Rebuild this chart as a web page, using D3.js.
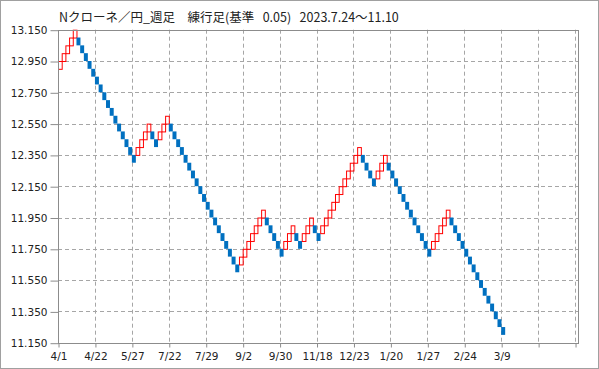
<!DOCTYPE html>
<html>
<head>
<meta charset="utf-8">
<script src="https://cdn.jsdelivr.net/npm/d3@7"></script>
<style>
  body { margin: 0; background: #fff; }
  .grid line { stroke: #a6a6a6; stroke-dasharray: 4,3; }
  .tick text { font-family: "DejaVu Sans", sans-serif; font-size: 10.5px; fill: #222; }
</style>
</head>
<body>
<svg width="599" height="369"></svg>
<script>
// renko settings
var boxSize = 0.05;
var startPrice = 12.90;

// signed run lengths (bricks per run, + up / - down)
var runs = [5, -16, 4, -2, 3, -19, 7, -5, 3, -2, 3, -2, 11, -4, 3, -12, 5, -15];

// x tick labels, one every 10 bricks
var xLabels = ["4/1", "4/22", "5/27", "7/22", "7/29", "9/2", "9/30", "11/18",
    "12/23", "1/20", "1/27", "2/24", "3/9", "", ""];

// y tick values
var yTicks = [11.15, 11.35, 11.55, 11.75, 11.95, 12.15, 12.35, 12.55, 12.75, 12.95, 13.15];

var title = "Nクローネ／円_週足　練行足(基準   0.05)   2023.7.24～11.10";

// build the bricks from the runs
var bricks = [];
var last = null; // {lo, hi, up}
runs.forEach(function (r) {
    var up = r > 0;
    for (var k = 0; k < Math.abs(r); k++) {
        var lo;
        if (last === null) {
            lo = up ? startPrice : startPrice - boxSize;
        } else {
            // same direction continues, a reversal starts from the far side
            lo = up ? last.hi : last.lo - boxSize;
        }
        last = { lo: lo, hi: lo + boxSize, up: up };
        bricks.push(last);
    }
});

var margin = { top: 29.7, left: 58, right: 21, bottom: 26.3 };
var W = 599, H = 369;

var svg = d3.select("svg");

// outer border
svg.append("rect")
    .attr("x", 0.5).attr("y", 0.5)
    .attr("width", W - 1).attr("height", H - 1)
    .attr("fill", "#fff").attr("stroke", "#a0a0a0");

var x = d3.scaleLinear().domain([0, 140.8]).range([margin.left, W - margin.right]);
var y = d3.scaleLinear().domain([11.15, 13.15]).range([H - margin.bottom, margin.top]);

var xTickIdx = xLabels.map(function (d, i) { return i * 10; });

// grid lines
var grid = svg.append("g").attr("class", "grid");
grid.selectAll(".gx")
    .data(xTickIdx.slice(1))
    .enter().append("line")
    .attr("x1", function (d) { return Math.round(x(d)) + 0.5; })
    .attr("x2", function (d) { return Math.round(x(d)) + 0.5; })
    .attr("y1", y(13.15)).attr("y2", y(11.15));
grid.selectAll(".gy")
    .data(yTicks.slice(1, -1))
    .enter().append("line")
    .attr("y1", function (d) { return Math.round(y(d)) + 0.5; })
    .attr("y2", function (d) { return Math.round(y(d)) + 0.5; })
    .attr("x1", x.range()[0]).attr("x2", x.range()[1]);

// bricks
svg.append("g").selectAll("rect")
    .data(bricks)
    .enter().append("rect")
    .attr("x", function (d, i) { return d.up ? x(i) + 0.5 : x(i); })
    .attr("y", function (d) { return d.up ? y(d.hi) + 0.5 : y(d.hi); })
    .attr("width", function (d, i) { return d.up ? x(i + 1) - x(i) : x(i + 1) - x(i) + 0.3; })
    .attr("height", function (d) { return y(d.lo) - y(d.hi); })
    .attr("fill", function (d) { return d.up ? "none" : "#0070c0"; })
    .attr("stroke", function (d) { return d.up ? "#ff0000" : "none"; })
    .attr("stroke-width", 1);

// plot frame
svg.append("rect")
    .attr("x", Math.round(x.range()[0]) + 0.5)
    .attr("y", Math.round(y.range()[1]) + 0.5)
    .attr("width", Math.round(x.range()[1]) - Math.round(x.range()[0]))
    .attr("height", Math.round(y.range()[0]) - Math.round(y.range()[1]))
    .attr("fill", "none").attr("stroke", "#8c8c8c");

// axes
var yAxis = d3.axisLeft(y)
    .tickValues(yTicks)
    .tickSize(8)
    .tickPadding(3)
    .tickFormat(d3.format(".3f"));
var gy = svg.append("g")
    .attr("transform", "translate(" + (Math.round(x.range()[0]) + 0.5) + ",0.5)")
    .call(yAxis);

var xAxis = d3.axisBottom(x)
    .tickValues(xTickIdx)
    .tickSize(4)
    .tickPadding(5)
    .tickFormat(function (d, i) { return xLabels[i]; });
var gx = svg.append("g")
    .attr("transform", "translate(0.5," + (Math.round(y.range()[0]) + 0.5) + ")")
    .call(xAxis);

[gx, gy].forEach(function (g) {
    g.select(".domain").remove();
    g.selectAll(".tick line").attr("stroke", "#8c8c8c");
});

// title
svg.append("text")
    .attr("x", 59).attr("y", 22)
    .attr("font-family", "'Noto Sans CJK JP', sans-serif")
    .attr("font-size", 12.5)
    .attr("fill", "#222")
    .style("white-space", "pre")
    .text(title);
</script>
</body>
</html>
